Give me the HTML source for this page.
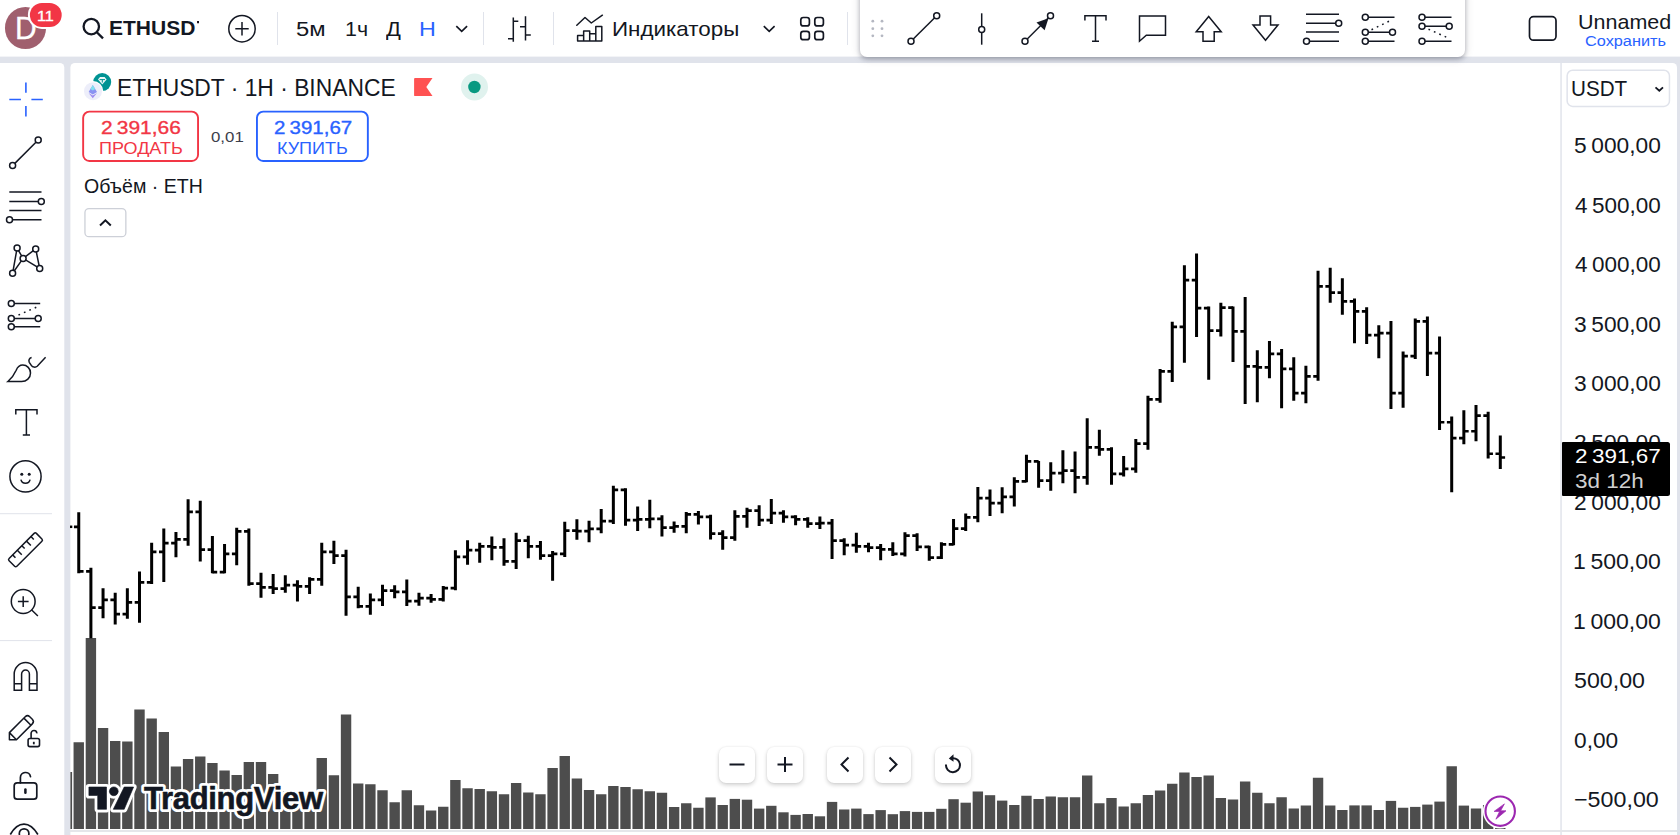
<!DOCTYPE html>
<html lang="ru"><head><meta charset="utf-8"><title>ETHUSDT — TradingView</title>
<style>
*{box-sizing:border-box;margin:0;padding:0}
html,body{width:1680px;height:835px;overflow:hidden;background:#e0e3eb}
body{position:relative;font-family:"Liberation Sans",sans-serif;color:#131722}
.abs{position:absolute}
.t{position:absolute;white-space:nowrap;line-height:1;transform-origin:0 0}
#topbar{left:0;top:0;width:1680px;height:56.6px;background:#fff}
#left{left:0;top:62.9px;width:64.3px;height:773px;background:#fff;border-radius:0 5px 0 0}
#chart{left:70.4px;top:62.9px;width:1606.6px;height:773px;background:#fff;border-radius:5px 5px 0 0}
#axisline{left:1560.3px;top:63px;width:1.4px;height:772px;background:#e2e4eb}
#botline{left:70.4px;top:830.2px;width:1606.6px;height:1.6px;background:#e5e6ea}
#ftb{left:860px;top:-12px;width:605px;height:69px;background:#fff;border-radius:7px;box-shadow:0 2px 4px rgba(20,25,45,.28),0 1px 10px rgba(20,25,45,.16)}
.sep{position:absolute;top:12px;width:1px;height:33px;background:#e0e3eb}
.tb{font-size:20px;top:19.5px}
.ax{position:absolute;left:1575px;font-size:21.5px;line-height:1;white-space:nowrap;letter-spacing:0.2px}
.btn{position:absolute;top:746.5px;width:36px;height:36px;background:#fff;border-radius:7px;box-shadow:0 2px 4px rgba(0,0,0,.18),0 0 2px rgba(0,0,0,.08)}
</style></head><body>
<svg class="abs" style="left:0;top:0" width="1680" height="835" viewBox="0 0 1680 835" fill="#fff">
<rect x="0" y="0" width="1680" height="56.6"/>
<path d="M0 62.9H59.8a4.5 4.5 0 0 1 4.5 4.5V835H0Z"/>
<path d="M74.9 62.9H1672.5a4.5 4.5 0 0 1 4.5 4.5V835H70.4V67.4a4.5 4.5 0 0 1 4.5-4.5Z"/>
<rect x="1560.3" y="62.9" width="1.5" height="773" fill="#e2e4eb"/>
</svg>
<svg class="abs" style="left:0;top:0" width="1680" height="835" viewBox="0 0 1680 835">
<g fill="#4d4d4d">
<rect x="70.4" y="772" width="1.7" height="57"/>
<rect x="73.55" y="742.25" width="10.4" height="86.75"/>
<rect x="85.7" y="638" width="10.4" height="191"/>
<rect x="97.85" y="728" width="10.4" height="101"/>
<rect x="110" y="741" width="10.4" height="88"/>
<rect x="122.15" y="741.5" width="10.4" height="87.5"/>
<rect x="134.3" y="709.5" width="10.4" height="119.5"/>
<rect x="146.45" y="718.5" width="10.4" height="110.5"/>
<rect x="158.6" y="732" width="10.4" height="97"/>
<rect x="170.75" y="766.5" width="10.4" height="62.5"/>
<rect x="182.9" y="759" width="10.4" height="70"/>
<rect x="195.05" y="756.5" width="10.4" height="72.5"/>
<rect x="207.2" y="763" width="10.4" height="66"/>
<rect x="219.35" y="770.5" width="10.4" height="58.5"/>
<rect x="231.5" y="775" width="10.4" height="54"/>
<rect x="243.65" y="762" width="10.4" height="67"/>
<rect x="255.8" y="762" width="10.4" height="67"/>
<rect x="267.95" y="774" width="10.4" height="55"/>
<rect x="280.1" y="791" width="10.4" height="38"/>
<rect x="292.25" y="793" width="10.4" height="36"/>
<rect x="304.4" y="791" width="10.4" height="38"/>
<rect x="316.55" y="758" width="10.4" height="71"/>
<rect x="328.7" y="775.25" width="10.4" height="53.75"/>
<rect x="340.85" y="714.5" width="10.4" height="114.5"/>
<rect x="353" y="783.5" width="10.4" height="45.5"/>
<rect x="365.15" y="784.25" width="10.4" height="44.75"/>
<rect x="377.3" y="790.25" width="10.4" height="38.75"/>
<rect x="389.45" y="802.25" width="10.4" height="26.75"/>
<rect x="401.6" y="790.25" width="10.4" height="38.75"/>
<rect x="413.75" y="805.25" width="10.4" height="23.75"/>
<rect x="425.9" y="810.5" width="10.4" height="18.5"/>
<rect x="438.05" y="806.75" width="10.4" height="22.25"/>
<rect x="450.2" y="780" width="10.4" height="49"/>
<rect x="462.35" y="788.25" width="10.4" height="40.75"/>
<rect x="474.5" y="789" width="10.4" height="40"/>
<rect x="486.65" y="791.25" width="10.4" height="37.75"/>
<rect x="498.8" y="794.25" width="10.4" height="34.75"/>
<rect x="510.95" y="783" width="10.4" height="46"/>
<rect x="523.1" y="792.5" width="10.4" height="36.5"/>
<rect x="535.25" y="794.25" width="10.4" height="34.75"/>
<rect x="547.4" y="768" width="10.4" height="61"/>
<rect x="559.55" y="756" width="10.4" height="73"/>
<rect x="571.7" y="778.5" width="10.4" height="50.5"/>
<rect x="583.85" y="790" width="10.4" height="39"/>
<rect x="596" y="794.25" width="10.4" height="34.75"/>
<rect x="608.15" y="786" width="10.4" height="43"/>
<rect x="620.3" y="787" width="10.4" height="42"/>
<rect x="632.45" y="789.25" width="10.4" height="39.75"/>
<rect x="644.6" y="791.25" width="10.4" height="37.75"/>
<rect x="656.75" y="792.75" width="10.4" height="36.25"/>
<rect x="668.9" y="807" width="10.4" height="22"/>
<rect x="681.05" y="803.25" width="10.4" height="25.75"/>
<rect x="693.2" y="807.75" width="10.4" height="21.25"/>
<rect x="705.35" y="797.4" width="10.4" height="31.6"/>
<rect x="717.5" y="805" width="10.4" height="24"/>
<rect x="729.65" y="798.9" width="10.4" height="30.1"/>
<rect x="741.8" y="799.7" width="10.4" height="29.3"/>
<rect x="753.95" y="808.6" width="10.4" height="20.4"/>
<rect x="766.1" y="805.8" width="10.4" height="23.2"/>
<rect x="778.25" y="812.3" width="10.4" height="16.7"/>
<rect x="790.4" y="814.9" width="10.4" height="14.1"/>
<rect x="802.55" y="814" width="10.4" height="15"/>
<rect x="814.7" y="816.3" width="10.4" height="12.7"/>
<rect x="826.85" y="801.9" width="10.4" height="27.1"/>
<rect x="839" y="809.5" width="10.4" height="19.5"/>
<rect x="851.15" y="808.6" width="10.4" height="20.4"/>
<rect x="863.3" y="814.1" width="10.4" height="14.9"/>
<rect x="875.45" y="810.1" width="10.4" height="18.9"/>
<rect x="887.6" y="814.2" width="10.4" height="14.8"/>
<rect x="899.75" y="811.1" width="10.4" height="17.9"/>
<rect x="911.9" y="811.9" width="10.4" height="17.1"/>
<rect x="924.05" y="811.9" width="10.4" height="17.1"/>
<rect x="936.2" y="808.8" width="10.4" height="20.2"/>
<rect x="948.35" y="799.2" width="10.4" height="29.8"/>
<rect x="960.5" y="802.7" width="10.4" height="26.3"/>
<rect x="972.65" y="791.5" width="10.4" height="37.5"/>
<rect x="984.8" y="795.2" width="10.4" height="33.8"/>
<rect x="996.95" y="800.6" width="10.4" height="28.4"/>
<rect x="1009.1" y="805" width="10.4" height="24"/>
<rect x="1021.25" y="795.75" width="10.4" height="33.25"/>
<rect x="1033.4" y="799" width="10.4" height="30"/>
<rect x="1045.55" y="796.5" width="10.4" height="32.5"/>
<rect x="1057.7" y="797.25" width="10.4" height="31.75"/>
<rect x="1069.85" y="797.25" width="10.4" height="31.75"/>
<rect x="1082" y="775.5" width="10.4" height="53.5"/>
<rect x="1094.15" y="803.25" width="10.4" height="25.75"/>
<rect x="1106.3" y="798" width="10.4" height="31"/>
<rect x="1118.45" y="806.5" width="10.4" height="22.5"/>
<rect x="1130.6" y="803.25" width="10.4" height="25.75"/>
<rect x="1142.75" y="795" width="10.4" height="34"/>
<rect x="1154.9" y="790.5" width="10.4" height="38.5"/>
<rect x="1167.05" y="783.75" width="10.4" height="45.25"/>
<rect x="1179.2" y="772.5" width="10.4" height="56.5"/>
<rect x="1191.35" y="777" width="10.4" height="52"/>
<rect x="1203.5" y="775.5" width="10.4" height="53.5"/>
<rect x="1215.65" y="798" width="10.4" height="31"/>
<rect x="1227.8" y="799.5" width="10.4" height="29.5"/>
<rect x="1239.95" y="781.5" width="10.4" height="47.5"/>
<rect x="1252.1" y="792.75" width="10.4" height="36.25"/>
<rect x="1264.25" y="803.25" width="10.4" height="25.75"/>
<rect x="1276.4" y="797.25" width="10.4" height="31.75"/>
<rect x="1288.55" y="808.5" width="10.4" height="20.5"/>
<rect x="1300.7" y="805.5" width="10.4" height="23.5"/>
<rect x="1312.85" y="777.75" width="10.4" height="51.25"/>
<rect x="1325" y="805.5" width="10.4" height="23.5"/>
<rect x="1337.15" y="810" width="10.4" height="19"/>
<rect x="1349.3" y="805.4" width="10.4" height="23.6"/>
<rect x="1361.45" y="805.4" width="10.4" height="23.6"/>
<rect x="1373.6" y="810" width="10.4" height="19"/>
<rect x="1385.75" y="800.9" width="10.4" height="28.1"/>
<rect x="1397.9" y="807.75" width="10.4" height="21.25"/>
<rect x="1410.05" y="806.9" width="10.4" height="22.1"/>
<rect x="1422.2" y="804.6" width="10.4" height="24.4"/>
<rect x="1434.35" y="801.6" width="10.4" height="27.4"/>
<rect x="1446.5" y="766.25" width="10.4" height="62.75"/>
<rect x="1458.65" y="805.6" width="10.4" height="23.4"/>
<rect x="1470.8" y="808.5" width="10.4" height="20.5"/>
<rect x="1482.95" y="805" width="10.4" height="24"/>
<rect x="1495.1" y="827.8" width="10.4" height="1.2"/>
</g>
<path d="M78.75 512.3V573.3M90.9 567.8V638.3M103.05 588.3V618.3M115.2 592.8V624.55M127.35 588.3V618.8M139.5 571.55V622.8M151.65 542.8V584.05M163.8 528.55V582.05M175.95 532.05V557.3M188.1 499.3V545.8M200.25 500.8V561.55M212.4 536.05V573.3M224.55 544.05V573.3M236.7 527.8V565.3M248.85 528.55V585.8M261 572.8V597.8M273.15 574.05V594.05M285.3 575.3V592.8M297.45 580.3V601.55M309.6 577.3V594.05M321.75 542.8V585.8M333.9 540.8V564.05M346.05 549.8V615.8M358.2 586.8V608.3M370.35 593.55V614.8M382.5 584.8V606.05M394.65 585.3V598.3M406.8 579.55V606.05M418.95 592.8V605.8M431.1 594.05V602.8M443.25 586.05V601.55M455.4 550.3V590.3M467.55 540.3V564.8M479.7 542.8V562.8M491.85 536.55V560.3M504 538.3V565.8M516.15 532.8V569.05M528.3 535.8V558.3M540.45 541.05V559.8M552.6 551.05V580.8M564.75 521.8V557.05M576.9 519.3V539.8M589.05 520.8V542.3M601.2 509.05V533.3M613.35 485.8V524.05M625.5 488.3V525.8M637.65 506.55V531.05M649.8 499.8V528.3M661.95 515.3V536.55M674.1 521.55V532.8M686.25 512.05V533.3M698.4 511.05V524.55M710.55 514.8V539.55M722.7 530.3V549.8M734.85 510.3V540.8M747 507.8V527.8M759.15 505.3V526.05M771.3 499.05V524.05M783.45 510.3V522.8M795.6 515.3V525.3M807.75 517.3V527.8M819.9 516.55V529.05M832.05 519.05V559.05M844.2 538.3V555.3M856.35 532.8V552.8M868.5 542.8V552.3M880.65 544.05V560.3M892.8 542.3V556.05M904.95 532.3V556.55M917.1 533.3V551.05M929.25 545.8V560.8M941.4 542.3V559.05M953.55 519.05V545.3M965.7 513.55V531.05M977.85 487.05V522.3M990 489.55V516.05M1002.15 487.3V513.3M1014.3 477.3V506.55M1026.45 454.8V482.3M1038.6 461.05V487.8M1050.75 462.3V490.8M1062.9 450.3V483.3M1075.05 451.55V493.3M1087.2 418.3V484.8M1099.35 429.8V455.8M1111.5 447.3V484.8M1123.65 456.05V476.55M1135.8 439.05V472.8M1147.95 395.8V449.8M1160.1 369.05V402.8M1172.25 321.8V382.05M1184.4 265.3V362.8M1196.55 253.55V337.05M1208.7 306.55V379.8M1220.85 302.8V336.55M1233 306.55V362.05M1245.15 297.05V404.05M1257.3 350.3V402.3M1269.45 341.05V378.3M1281.6 349.05V408.3M1293.75 357.3V400.8M1305.9 365.8V403.3M1318.05 270.8V380.8M1330.2 267.8V302.8M1342.35 278.3V314.8M1354.5 298.55V343.3M1366.65 307.3V344.05M1378.8 325.3V358.3M1390.95 321.05V409.05M1403.1 351.55V407.8M1415.25 318.55V359.05M1427.4 316.55V376.05M1439.55 336.55V430.05M1451.7 416.55V492.3M1463.85 410.3V444.3M1476 405.05V441.18M1488.15 411.8V458.43M1500.3 435.55V469.05" stroke="#000" stroke-width="3" fill="none"/>
<path d="M73.95 526.85H78.75M78.75 571.35H83.55M86.1 571.35H90.9M90.9 607.6H95.7M98.25 607.6H103.05M103.05 599.85H107.85M110.4 599.85H115.2M115.2 614.1H120M122.55 614.1H127.35M127.35 602.35H132.15M134.7 602.35H139.5M139.5 582.35H144.3M146.85 582.35H151.65M151.65 551.85H156.45M159 551.85H163.8M163.8 543.1H168.6M171.15 543.1H175.95M175.95 539.35H180.75M183.3 539.35H188.1M188.1 511.85H192.9M195.45 511.85H200.25M200.25 549.6H205.05M207.6 549.6H212.4M212.4 572.1H217.2M219.75 572.1H224.55M224.55 553.85H229.35M231.9 553.85H236.7M236.7 531.35H241.5M244.05 531.35H248.85M248.85 583.6H253.65M256.2 583.6H261M261 587.35H265.8M268.35 587.35H273.15M273.15 588.6H277.95M280.5 588.6H285.3M285.3 585.1H290.1M292.65 585.1H297.45M297.45 586.35H302.25M304.8 586.35H309.6M309.6 579.35H314.4M316.95 579.35H321.75M321.75 551.85H326.55M329.1 551.85H333.9M333.9 555.6H338.7M341.25 555.6H346.05M346.05 596.85H350.85M353.4 596.85H358.2M358.2 606.35H363M365.55 606.35H370.35M370.35 599.85H375.15M377.7 599.85H382.5M382.5 590.6H387.3M389.85 590.6H394.65M394.65 591.85H399.45M402 591.85H406.8M406.8 601.1H411.6M414.15 601.1H418.95M418.95 598.1H423.75M426.3 598.1H431.1M431.1 599.35H435.9M438.45 599.35H443.25M443.25 588.1H448.05M450.6 588.1H455.4M455.4 556.85H460.2M462.75 556.85H467.55M467.55 550.1H472.35M474.9 550.1H479.7M479.7 546.35H484.5M487.05 546.35H491.85M491.85 547.35H496.65M499.2 547.35H504M504 561.35H508.8M511.35 561.35H516.15M516.15 540.6H520.95M523.5 540.6H528.3M528.3 546.35H533.1M535.65 546.35H540.45M540.45 555.6H545.25M547.8 555.6H552.6M552.6 553.85H557.4M559.95 553.85H564.75M564.75 530.6H569.55M572.1 530.6H576.9M576.9 531.1H581.7M584.25 531.1H589.05M589.05 528.85H593.85M596.4 528.85H601.2M601.2 521.1H606M608.55 521.1H613.35M613.35 489.85H618.15M620.7 489.85H625.5M625.5 520.1H630.3M632.85 520.1H637.65M637.65 519.35H642.45M645 519.35H649.8M649.8 518.85H654.6M657.15 518.85H661.95M661.95 527.6H666.75M669.3 527.6H674.1M674.1 526.35H678.9M681.45 526.35H686.25M686.25 514.35H691.05M693.6 514.35H698.4M698.4 516.85H703.2M705.75 516.85H710.55M710.55 533.6H715.35M717.9 533.6H722.7M722.7 537.6H727.5M730.05 537.6H734.85M734.85 516.35H739.65M742.2 516.35H747M747 510.6H751.8M754.35 510.6H759.15M759.15 520.1H763.95M766.5 520.1H771.3M771.3 513.1H776.1M778.65 513.1H783.45M783.45 516.85H788.25M790.8 516.85H795.6M795.6 519.35H800.4M802.95 519.35H807.75M807.75 523.6H812.55M815.1 523.6H819.9M819.9 523.1H824.7M827.25 523.1H832.05M832.05 540.6H836.85M839.4 540.6H844.2M844.2 545.1H849M851.55 545.1H856.35M856.35 546.35H861.15M863.7 546.35H868.5M868.5 547.6H873.3M875.85 547.6H880.65M880.65 549.35H885.45M888 549.35H892.8M892.8 553.85H897.6M900.15 553.85H904.95M904.95 535.6H909.75M912.3 535.6H917.1M917.1 546.85H921.9M924.45 546.85H929.25M929.25 557.6H934.05M936.6 557.6H941.4M941.4 544.35H946.2M948.75 544.35H953.55M953.55 528.6H958.35M960.9 528.6H965.7M965.7 517.35H970.5M973.05 517.35H977.85M977.85 498.1H982.65M985.2 498.1H990M990 503.1H994.8M997.35 503.1H1002.15M1002.15 496.85H1006.95M1009.5 496.85H1014.3M1014.3 481.35H1019.1M1021.65 481.35H1026.45M1026.45 461.35H1031.25M1033.8 461.35H1038.6M1038.6 480.6H1043.4M1045.95 480.6H1050.75M1050.75 473.1H1055.55M1058.1 473.1H1062.9M1062.9 470.6H1067.7M1070.25 470.6H1075.05M1075.05 477.35H1079.85M1082.4 477.35H1087.2M1087.2 447.35H1092M1094.55 447.35H1099.35M1099.35 449.35H1104.15M1106.7 449.35H1111.5M1111.5 473.85H1116.3M1118.85 473.85H1123.65M1123.65 468.85H1128.45M1131 468.85H1135.8M1135.8 443.6H1140.6M1143.15 443.6H1147.95M1147.95 399.35H1152.75M1155.3 399.35H1160.1M1160.1 371.35H1164.9M1167.45 371.35H1172.25M1172.25 326.85H1177.05M1179.6 326.85H1184.4M1184.4 280.1H1189.2M1191.75 280.1H1196.55M1196.55 308.1H1201.35M1203.9 308.1H1208.7M1208.7 330.6H1213.5M1216.05 330.6H1220.85M1220.85 307.6H1225.65M1228.2 307.6H1233M1233 331.35H1237.8M1240.35 331.35H1245.15M1245.15 366.35H1249.95M1252.5 366.35H1257.3M1257.3 367.35H1262.1M1264.65 367.35H1269.45M1269.45 353.85H1274.25M1276.8 353.85H1281.6M1281.6 368.85H1286.4M1288.95 368.85H1293.75M1293.75 393.1H1298.55M1301.1 393.1H1305.9M1305.9 376.35H1310.7M1313.25 376.35H1318.05M1318.05 286.35H1322.85M1325.4 286.35H1330.2M1330.2 292.6H1335M1337.55 292.6H1342.35M1342.35 301.35H1347.15M1349.7 301.35H1354.5M1354.5 311.35H1359.3M1361.85 311.35H1366.65M1366.65 335.1H1371.45M1374 335.1H1378.8M1378.8 333.1H1383.6M1386.15 333.1H1390.95M1390.95 393.1H1395.75M1398.3 393.1H1403.1M1403.1 356.1H1407.9M1410.45 356.1H1415.25M1415.25 321.35H1420.05M1422.6 321.35H1427.4M1427.4 353.1H1432.2M1434.75 353.1H1439.55M1439.55 422.23H1444.35M1446.9 422.23H1451.7M1451.7 438.1H1456.5M1459.05 438.1H1463.85M1463.85 431.23H1468.65M1471.2 431.23H1476M1476 415.6H1480.8M1483.35 415.6H1488.15M1488.15 453.73H1492.95M1495.5 453.73H1500.3M1500.3 457.48H1505.1" stroke="#000" stroke-width="2.7" fill="none"/>
<path d="M70 526.8H72.3" stroke="#000" stroke-width="2.5"/>
</svg>
<div class="abs" id="botline"></div>
<div class="abs" id="ftb"></div>
<div class="abs" style="left:4.6px;top:7.4px;width:41.8px;height:41.8px;border-radius:50%;background:#a05f6e"></div>
<div class="sep" style="left:277.3px"></div><div class="sep" style="left:482.5px"></div><div class="sep" style="left:553.2px"></div><div class="sep" style="left:847px"></div>

<!-- top bar text -->

<!-- chart header -->

<!-- price axis -->

<!-- bottom buttons -->
<div class="btn" style="left:719px"></div><div class="btn" style="left:767px"></div><div class="btn" style="left:827px"></div><div class="btn" style="left:875px"></div><div class="btn" style="left:935px"></div>

<!-- logo text -->
<svg class="abs" style="left:0;top:0" width="1680" height="835" viewBox="0 0 1680 835">
<g stroke="#fff" stroke-width="6.2" stroke-linejoin="round" fill="#fff">
<path d="M88.9 787H106.5V809.3H97.7V795.5H88.9Z"/><circle cx="113.8" cy="791.3" r="4.4"/><path d="M124.2 787H133.6L124.2 809.3H113.3Z"/>
<text x="144" y="809.4" font-family="Liberation Sans, sans-serif" font-weight="700" font-size="31" letter-spacing="-0.3">TradingView</text>
</g>
<g fill="#131722" stroke="#131722" stroke-width="0.6" stroke-linejoin="round">
<path d="M88.9 787H106.5V809.3H97.7V795.5H88.9Z"/><circle cx="113.8" cy="791.3" r="4.4"/><path d="M124.2 787H133.6L124.2 809.3H113.3Z"/>
<text x="144" y="809.4" font-family="Liberation Sans, sans-serif" font-weight="700" font-size="31" letter-spacing="-0.3">TradingView</text>
</g>
</svg>

<svg class="abs" style="left:0;top:0" width="1680" height="835" viewBox="0 0 1680 835" fill="none" stroke="#131722" stroke-width="1.5" stroke-linecap="butt" stroke-linejoin="miter">
<!-- avatar -->
<!-- search -->
<g stroke-width="2.3"><circle cx="91.3" cy="26.6" r="7.7"/><path d="M96.8 32.2L103 38.4"/></g>
<!-- plus circle -->
<circle cx="242" cy="28.7" r="13.2"/><path d="M235.3 28.7H248.7M242 22V35.4"/>
<!-- chevrons -->
<path d="M456.3 26.2L461.7 31.3L467.1 26.2M763.8 26.2L769.2 31.3L774.6 26.2" stroke-width="1.7"/>
<!-- bars style icon -->
<path d="M513.3 17.5V41.7M525.5 16.3V40.5M508 38.7H513.3M513.3 21.3H518.3M520 26.7H525.5M525.5 35H530.8"/>
<!-- indicators -->
<path d="M576.8 25.2L585 17.5L591.3 23L602.4 15.2" stroke-linejoin="round" stroke-linecap="round"/>
<path d="M577.6 41V35.5H583.65V31H589.7V33.8H595.8V26.4H601.8V41ZM583.65 35.5V41M589.7 33.8V41M595.8 33.8V41" stroke-linejoin="round"/>
<!-- grid -->
<g stroke-width="1.7"><rect x="800.8" y="17.5" width="8.6" height="8.4" rx="2.5"/><rect x="814.8" y="17.5" width="8.6" height="8.4" rx="2.5"/><rect x="800.8" y="31.3" width="8.6" height="8.4" rx="2.5"/><rect x="814.8" y="31.3" width="8.6" height="8.4" rx="2.5"/></g>
</svg>
<svg class="abs" style="left:0;top:0" width="1680" height="835" viewBox="0 0 1680 835" fill="none" stroke="#131722" stroke-width="1.5">
<!-- drag dots -->
<g fill="#b4b7c1" stroke="none"><circle cx="872.8" cy="21.2" r="1.4"/><circle cx="882" cy="21.2" r="1.4"/><circle cx="872.8" cy="28.7" r="1.4"/><circle cx="882" cy="28.7" r="1.4"/><circle cx="872.8" cy="35.8" r="1.4"/><circle cx="882" cy="35.8" r="1.4"/></g>
<!-- trend line -->
<path d="M911 41.2L936.7 15.8"/><circle cx="911" cy="41.2" r="3" fill="#fff"/><circle cx="936.7" cy="15.8" r="3" fill="#fff"/>
<!-- vertical line -->
<path d="M981.7 13.3V44.7"/><circle cx="981.7" cy="29.5" r="3" fill="#fff"/>
<!-- arrow -->
<path d="M1025 41.2L1050.5 15.8"/><path d="M1048.5 18.2L1036.5 22.6L1044.6 30.2Z" fill="#131722" stroke="none"/><circle cx="1025" cy="41.2" r="3" fill="#fff"/><circle cx="1050.5" cy="15.8" r="3" fill="#fff"/>
<!-- T -->
<path d="M1084.9 20.6V15.8H1106V20.6M1095.5 15.8V41.2M1092 41.2H1099"/>
<!-- bubble -->
<path d="M1139.5 16H1165.5V35.3H1146.3L1139.5 41.2Z"/>
<!-- up arrow -->
<path d="M1208.7 16.5L1221.2 31.7H1214.2V41.2H1203V31.7H1196.2Z"/>
<!-- down arrow -->
<path d="M1265.5 40.3L1253 25H1260V15.9H1270.6V25H1278Z"/>
<!-- fib 1 -->
<path d="M1306 14.2H1339M1306 23.3H1336M1306 32H1339M1309.5 41.2H1339"/><circle cx="1338.7" cy="23.3" r="3" fill="#fff"/><circle cx="1306.5" cy="41.2" r="3" fill="#fff"/>
<!-- fib 2 -->
<path d="M1368 17.2H1394.5M1368 32.2H1390M1368 41.2H1394.5"/><path d="M1371.5 29.7L1392 19.8" stroke-dasharray="1.7 4.2"/><circle cx="1365.3" cy="17.2" r="3" fill="#fff"/><circle cx="1365.3" cy="32.2" r="3" fill="#fff"/><circle cx="1365.3" cy="41.2" r="3" fill="#fff"/><circle cx="1392.5" cy="32.2" r="3" fill="#fff"/>
<!-- fib 3 -->
<path d="M1425 17.2H1451.5M1425 26.3H1446M1425 41.2H1451.5"/><path d="M1428.5 29.2L1450 38.8" stroke-dasharray="1.7 4.2"/><circle cx="1422" cy="17.2" r="3" fill="#fff"/><circle cx="1422" cy="26.3" r="3" fill="#fff"/><circle cx="1422" cy="41.2" r="3" fill="#fff"/><circle cx="1449.2" cy="26.3" r="3" fill="#fff"/>
<!-- layout square -->
<rect x="1529.5" y="16.7" width="26.5" height="23.5" rx="4" stroke-width="1.7"/>
</svg>
<svg class="abs" style="left:0;top:0" width="1680" height="835" viewBox="0 0 1680 835" fill="none" stroke="#131722" stroke-width="1.5">
<!-- header symbol logos -->
<circle cx="102.2" cy="82.1" r="9" fill="#009393" stroke="none"/>
<path d="M98 79.5L100 77H104.6L106.6 79.5L102.3 84.6Z" fill="#fff" stroke="none" opacity=".92"/><path d="M99.6 79.6H105M102.3 79.6V82.6" stroke="#009393" stroke-width="1"/>
<circle cx="93" cy="91.2" r="10.3" fill="#fff" stroke="none"/><circle cx="93" cy="91.2" r="9" fill="#edeefa" stroke="none"/>
<path d="M92.8 84.9L97 92L92.8 94.4L88.6 92Z" fill="#8a92f2" stroke="none"/><path d="M92.8 84.9L95.2 89L92.8 90.4L90.4 89Z" fill="#82dff0" stroke="none"/><path d="M92.8 98.3L97 93L92.8 95.5L88.6 93Z" fill="#9d8cf0" stroke="none"/>
<!-- sell/buy boxes -->
<rect x="83.15" y="111.65" width="114.9" height="49.3" rx="6.2" stroke="#f23645" stroke-width="1.9"/><rect x="256.95" y="111.65" width="110.9" height="49.3" rx="6.2" stroke="#2962ff" stroke-width="1.9"/>
<rect x="84.95" y="208.55" width="40.9" height="28.1" rx="4" stroke="#cdd0d8" stroke-width="1.3"/><rect x="1567.15" y="70.25" width="102.3" height="36.2" rx="5.5" stroke="#e0e3eb" stroke-width="1.5"/>
<!-- flag -->
<path d="M415 78H432.5L426.3 87L432.5 96.1H415Q414.1 96.1 414.1 95.2V78.9Q414.1 78 415 78Z" fill="#ff5252" stroke="none"/>
<!-- status -->
<circle cx="474.5" cy="87" r="13.5" fill="#e0f2ee" stroke="none"/><circle cx="474.4" cy="87" r="6.2" fill="#089981" stroke="none"/>
<!-- collapse chevron -->
<path d="M100 225.5L105.4 220.3L110.8 225.5" stroke-width="2"/>
<!-- USDT chevron -->
<path d="M1655.5 87.3L1659.3 90.7L1663 87.3" stroke-width="1.8"/>
<!-- bottom buttons glyphs -->
<g stroke-width="2"><path d="M729.5 764.5H744.5M777.5 764.5H792.5M785 757V772M848.5 757.5L841.5 764.5L848.5 771.5M889.5 757.5L896.5 764.5L889.5 771.5"/>
<path d="M952.2 758.2A7 7 0 1 1 946 764.5"/></g><path d="M953.5 754.3L948.8 758.4L953.5 761.8Z" fill="#131722" stroke="none"/>
<!-- lightning -->
<circle cx="1500.2" cy="811.2" r="17.3" fill="#fff" stroke="none"/><circle cx="1500.2" cy="811.2" r="14.7" stroke="#9c27b0" stroke-width="2.1"/>
<path d="M1504.4 803.9L1494.1 811.4H1499.6L1495.9 819.2L1506 810.8H1500.6Z" fill="#9c27b0" stroke="#9c27b0" stroke-width="0.7" stroke-linejoin="round"/>
</svg>
<svg class="abs" style="left:0;top:0" width="1680" height="835" viewBox="0 0 1680 835" fill="none" stroke="#131722" stroke-width="1.5">
<!-- crosshair -->
<path d="M25.9 82.6V92.7M25.9 106V116.6M9.3 99.5H20.9M31.4 99.5H42.8" stroke="#2962ff" stroke-width="1.6"/>
<!-- line -->
<path d="M12.6 165.6L38.2 140"/><circle cx="12.6" cy="165.6" r="3" fill="#fff"/><circle cx="38.2" cy="140" r="3" fill="#fff"/>
<!-- fib -->
<path d="M9.3 192H41.5M9.3 201.6H38M9.3 210.4H41.5M12 219.7H41.5"/><circle cx="41.3" cy="201.6" r="3" fill="#fff"/><circle cx="9.5" cy="219.7" r="3" fill="#fff"/>
<!-- xabcd -->
<path d="M12.6 273.3L17.1 248.1L23.1 258.4L35.7 248.9L39.7 268.5L23.1 258.4L12.6 273.3"/>
<circle cx="12.6" cy="273.3" r="3" fill="#fff"/><circle cx="17.1" cy="248.1" r="3" fill="#fff"/><circle cx="23.1" cy="258.4" r="3" fill="#fff"/><circle cx="35.7" cy="248.9" r="3" fill="#fff"/><circle cx="39.7" cy="268.5" r="3" fill="#fff"/>
<!-- fib 2 -->
<path d="M14 303.4H40.2M14 318.5H36M14 326.8H40.2"/><path d="M18.5 315L38.5 306.3" stroke-dasharray="1.7 4.2"/><circle cx="11.3" cy="303.4" r="3" fill="#fff"/><circle cx="11.3" cy="318.5" r="3" fill="#fff"/><circle cx="11.3" cy="326.8" r="3" fill="#fff"/><circle cx="38.2" cy="318.5" r="3" fill="#fff"/>
<!-- brush -->
<path d="M7.9 381.5C12.5 377.5 14.5 374 16.2 370.2C17.5 367 19.8 365.1 22.8 365.1C27 365.1 30.5 368.5 30.5 372.9C30.5 378 26.5 381.5 21.6 381.5Z"/><path d="M31.6 357.5C29.3 358 28.3 360.3 29.3 362.3L31.3 365.3C32.6 367.2 35.4 367.8 37.2 366.2L45.6 357.3"/>
<!-- T -->
<path d="M15.8 414.5V409.8H37V414.5M26.4 409.8V435M22.8 435H30"/>
<!-- smile -->
<circle cx="25.5" cy="476.4" r="15.6"/><circle cx="21.8" cy="474.2" r="1.5" fill="#131722" stroke="none"/><circle cx="29.2" cy="474.2" r="1.5" fill="#131722" stroke="none"/><path d="M20.9 479.6C22 484.4 29 484.4 30.1 479.6"/>
<!-- ruler -->
<g transform="translate(25.5 549.8) rotate(-45)"><rect x="-19.3" y="-5.5" width="38.6" height="11" rx="1.6"/><path d="M-12.7 -5.5V-1.5M-6.1 -5.5V0.8M0.3 -5.5V-1.5M6.8 -5.5V0.8M13.2 -5.5V-1.5"/></g>
<!-- zoom -->
<circle cx="23.2" cy="601.5" r="11.9"/><path d="M17.9 601.6H28.6M23.2 596.2V606.9M31.7 610L37.9 616"/>
<!-- magnet -->
<path d="M14.2 690.2V674A11.4 11.4 0 0 1 37 674V690.2H29.4V674A3.9 3.9 0 0 0 21.6 674V690.2ZM14.2 683.7H21.6M29.4 683.7H37"/>
<!-- pencil + lock -->
<g transform="translate(9.4 739.7) rotate(-45)"><path d="M0 0L5 -5H27.4A3.2 3.2 0 0 1 30.6 -1.8V1.8A3.2 3.2 0 0 1 27.4 5H5ZM5 -5V5M25.5 -5V5" stroke-linejoin="round"/></g>
<rect x="28.1" y="738.5" width="11.4" height="8.1" rx="1.8" fill="#fff" stroke-width="1.6"/><path d="M31.1 738.5V733.2A2.85 2.85 0 0 1 36.8 733.4" stroke-width="1.6"/><path d="M33.8 741.8V744.3" stroke-width="1.8"/>
<!-- unlock -->
<rect x="14.2" y="782.8" width="22.6" height="16.4" rx="3" stroke-width="1.7"/><path d="M20.4 782.8V777.5A5.1 5.1 0 0 1 30.5 776.6" stroke-width="1.7" stroke-linecap="round"/><path d="M25.4 789.6V792.8" stroke-width="2.5" stroke-linecap="round"/>
<!-- eye -->
<path d="M10.3 834.5C14 828 18.5 824.1 24 824.1C29.5 824.1 34 828 37.9 834.5" stroke-width="1.7"/><circle cx="24.1" cy="833.6" r="4.8" stroke-width="1.7"/>
<!-- separators -->
<path d="M0 513.7H52M0 640.6H52" stroke="#e0e3eb" stroke-width="1"/>
</svg>

<div class="t" style="left:14.94px;top:12px;font-size:32.27px;color:#fff;-webkit-text-stroke:0.35px #fff;transform:scaleX(0.93);">D</div>
<svg class="abs" style="left:0;top:0" width="70" height="40" viewBox="0 0 70 40">
<!-- badge -->
<rect x="29.9" y="2.9" width="31.8" height="24" rx="12" fill="#fff" stroke="#fff" stroke-width="4"/><rect x="29.9" y="2.9" width="31.8" height="24" rx="12" fill="#f23645"/>
</svg>
<div class="t" style="left:37.34px;top:8px;font-size:15.29px;color:#fff;-webkit-text-stroke:0.35px #fff;transform:scaleX(1.0643);">11</div>
<div class="t" style="left:108.94px;top:19px;font-size:19.77px;color:#131722;font-weight:700;transform:scaleX(1.0625);">ETHUSD</div>
<div class="t" style="left:296.34px;top:19px;font-size:20.49px;color:#131722;transform:scaleX(1.1609);">5м</div>
<div class="t" style="left:344.76px;top:19px;font-size:20.49px;color:#131722;transform:scaleX(1.045);">1ч</div>
<div class="t" style="left:385.8px;top:19px;font-size:20.49px;color:#131722;transform:scaleX(1.0714);">Д</div>
<div class="t" style="left:418.53px;top:19px;font-size:20.49px;color:#2962ff;transform:scaleX(1.1364);">Н</div>
<div class="t" style="left:612.31px;top:19px;font-size:20.49px;color:#131722;transform:scaleX(1.0929);">Индикаторы</div>
<div class="t" style="left:1577.97px;top:12px;font-size:20.93px;color:#131722;transform:scaleX(1.0273);">Unnamed</div>
<div class="t" style="left:1584.59px;top:34px;font-size:14.68px;color:#2962ff;transform:scaleX(1.1099);">Сохранить</div>
<div class="t" style="left:117.05px;top:76px;font-size:24.71px;color:#131722;transform:scaleX(0.9241);">ETHUSDT · 1H · BINANCE</div>
<div class="t" style="left:100.74px;top:119px;font-size:18px;color:#f23645;-webkit-text-stroke:0.35px #f23645;transform:scaleX(1.1627);">2 391,66</div>
<div class="t" style="left:98.7px;top:140px;font-size:16.42px;color:#f23645;transform:scaleX(1.0973);">ПРОДАТЬ</div>
<div class="t" style="left:210.77px;top:130px;font-size:14.86px;color:#3c404c;transform:scaleX(1.1333);">0,01</div>
<div class="t" style="left:273.56px;top:119px;font-size:18px;color:#2962ff;-webkit-text-stroke:0.35px #2962ff;transform:scaleX(1.1388);">2 391,67</div>
<div class="t" style="left:276.9px;top:140px;font-size:16.42px;color:#2962ff;transform:scaleX(1.0952);">КУПИТЬ</div>
<div class="t" style="left:83.79px;top:177px;font-size:19.33px;color:#131722;transform:scaleX(1.0122);">Объём · ETH</div>
<div class="t" style="left:1570.81px;top:78px;font-size:21.8px;color:#131722;transform:scaleX(0.9474);">USDT</div>
<div class="t" style="left:1574.38px;top:135px;font-size:22.29px;color:#131722;transform:scaleX(1.0217);">5 000,00</div>
<div class="t" style="left:1575.4px;top:195px;font-size:22.29px;color:#131722;transform:scaleX(1.0095);">4 500,00</div>
<div class="t" style="left:1575.4px;top:254px;font-size:22.29px;color:#131722;transform:scaleX(1.0095);">4 000,00</div>
<div class="t" style="left:1574.38px;top:314px;font-size:22.29px;color:#131722;transform:scaleX(1.0217);">3 500,00</div>
<div class="t" style="left:1574.38px;top:373px;font-size:22.29px;color:#131722;transform:scaleX(1.0217);">3 000,00</div>
<div class="t" style="left:1574.38px;top:432px;font-size:22.29px;color:#131722;transform:scaleX(1.0217);">2 500,00</div>
<div class="t" style="left:1574.38px;top:492px;font-size:22.29px;color:#131722;transform:scaleX(1.0217);">2 000,00</div>
<div class="t" style="left:1573.33px;top:551px;font-size:22.29px;color:#131722;transform:scaleX(1.0341);">1 500,00</div>
<div class="t" style="left:1573.33px;top:611px;font-size:22.29px;color:#131722;transform:scaleX(1.0341);">1 000,00</div>
<div class="t" style="left:1574.26px;top:670px;font-size:22.29px;color:#131722;transform:scaleX(1.0409);">500,00</div>
<div class="t" style="left:1574.28px;top:730px;font-size:22.29px;color:#131722;transform:scaleX(1.019);">0,00</div>
<div class="t" style="left:1573.86px;top:789px;font-size:22.29px;color:#131722;transform:scaleX(1.0443);">−500,00</div>
<div class="abs" style="left:1561.6px;top:442.2px;width:108.4px;height:54.1px;background:#000;border-radius:1px 2.5px 2.5px 1px"></div>
<div class="t" style="left:1574.68px;top:446px;font-size:20px;color:#fff;transform:scaleX(1.1243);">2 391,67</div>
<div class="t" style="left:1574.67px;top:472px;font-size:19.86px;color:#d0d0d0;transform:scaleX(1.1322);">3d 12h</div>
<div class="abs" style="left:196.6px;top:18.57px;width:2.6px;height:24px;overflow:hidden;font-size:19.77px;font-weight:700;line-height:1">T</div>
</body></html>
